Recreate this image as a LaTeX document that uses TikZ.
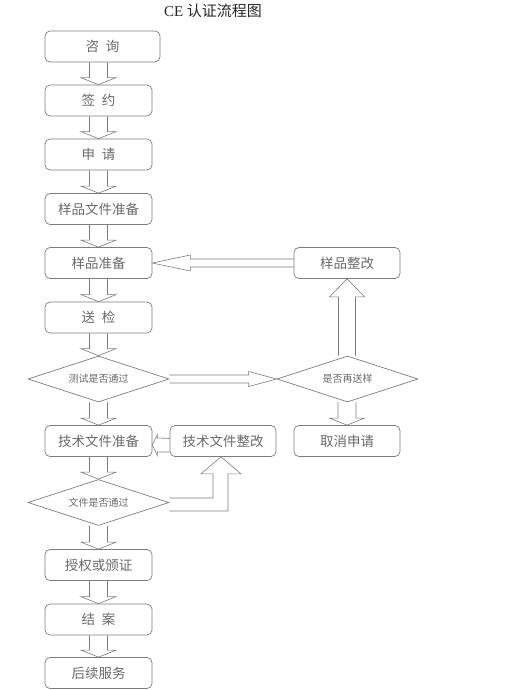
\documentclass[tikz,border=0pt]{standalone}
\usepackage{fontspec}
\setmainfont{Liberation Serif}
\newfontfamily\cjk{Noto Sans CJK SC}
\usetikzlibrary{shapes.geometric,calc}
\tikzset{>=latex}
\definecolor{linegray}{RGB}{125,125,125}
\definecolor{textgray}{RGB}{105,105,105}
\tikzset{
  box/.style={draw=linegray, line width=0.7pt, rounded corners=5pt, minimum width=107pt, minimum height=31pt, inner sep=0pt, text=textgray, font=\cjk\fontsize{13.5}{14}\selectfont},
  decision/.style={diamond, draw=linegray, line width=0.7pt, aspect=3.07, minimum width=141pt, minimum height=46pt, inner sep=0pt, text=textgray, font=\cjk\fontsize{10}{11}\selectfont},
  fatarrow/.style={draw=linegray, line width=0.6pt, line join=miter},
}
% wide arrow from the bottom of #1 down to the top of #2
\newcommand{\downblock}[2]{%
  \draw[fatarrow] ($(#2.north |- #1.south)+(-9,0)$) -- ($(#2.north)+(-9,-7)$) -- ($(#2.north)+(-17.5,-7)$) -- (#2.north)
    -- ($(#2.north)+(17.5,-7)$) -- ($(#2.north)+(9,-7)$) -- ($(#2.north |- #1.south)+(9,0)$);}

\begin{document}
\begin{tikzpicture}[x=1pt, y=-1pt]

% zone de dessin / drawing area (pixels of the reference)
\useasboundingbox (0,0) rectangle (508,690);

% Titre / title
\node[font=\fontsize{15}{16}\selectfont, text=black!85] (titre) at (213,11) {CE {\cjk 认证流程图}};

% Colonne principale / main column
\node[box, minimum width=115pt] (zixun) at (102.5,46.5) {咨\hspace{0.5em}询};
\node[box] (qianyue) at (98.5,100.5) {签\hspace{0.5em}约};
\node[box] (shenqing) at (98.5,154.5) {申\hspace{0.5em}请};
\node[box] (wenjian) at (98.5,209) {样品文件准备};
\node[box] (yangpin) at (98.5,263) {样品准备};
\node[box] (songjian) at (98.5,317.5) {送\hspace{0.5em}检};
\node[decision] (ceshi) at (98.5,379) {测试是否通过};
\node[box] (jishu) at (98.5,441) {技术文件准备};
\node[decision] (wjtg) at (98.5,502.5) {文件是否通过};
\node[box] (shouquan) at (98.5,565) {授权或颁证};
\node[box] (jiean) at (98.5,619.5) {结\hspace{0.5em}案};
\node[box] (houxu) at (98.5,673) {后续服务};

% Colonne de droite / right-hand side
\node[box, minimum width=106pt] (zhenggai) at (347,263) {样品整改};
\node[decision] (zaisong) at (347.5,379) {是否再送样};
\node[box, minimum width=106pt] (quxiao) at (347,441) {取消申请};
\node[box, minimum width=106pt] (jszg) at (223,441) {技术文件整改};

% Flèches verticales / downward arrows
\downblock{zixun}{qianyue}
\downblock{qianyue}{shenqing}
\downblock{shenqing}{wenjian}
\downblock{wenjian}{yangpin}
\downblock{yangpin}{songjian}
\downblock{songjian}{ceshi}
\downblock{ceshi}{jishu}
\downblock{jishu}{wjtg}
\downblock{wjtg}{shouquan}
\downblock{shouquan}{jiean}
\downblock{jiean}{houxu}
\downblock{zaisong}{quxiao}

% Boucle échantillon / sample loop
\draw[fatarrow] ($(ceshi.east)+(0,-4)$) -- ($(zaisong.west)+(-28,-4)$) -- ($(zaisong.west)+(-28,-7.5)$) -- (zaisong.west)
  -- ($(zaisong.west)+(-28,7.5)$) -- ($(zaisong.west)+(-28,4)$) -- ($(ceshi.east)+(0,4)$);
\draw[fatarrow] ($(zhenggai.south |- zaisong.north)+(-8.5,0)$) -- ($(zhenggai.south)+(-8.5,18)$) -- ($(zhenggai.south)+(-17.5,18)$) -- (zhenggai.south)
  -- ($(zhenggai.south)+(17.5,18)$) -- ($(zhenggai.south)+(8.5,18)$) -- ($(zhenggai.south |- zaisong.north)+(8.5,0)$);
\draw[fatarrow] ($(zhenggai.west)+(0,-4)$) -- ($(yangpin.east)+(38,-4)$) -- ($(yangpin.east)+(38,-8)$) -- (yangpin.east)
  -- ($(yangpin.east)+(38,8)$) -- ($(yangpin.east)+(38,4)$) -- ($(zhenggai.west)+(0,4)$);

% Boucle documents / documents loop
\coordinate (tipdoc) at ($(jishu.east)+(0,4)$);
\draw[fatarrow] ($(jszg.west)+(0,-2.5)$) -- ($(tipdoc)+(5,-7)$) -- ($(tipdoc)+(5,-10.5)$) -- (tipdoc)
  -- ($(tipdoc)+(5,10.5)$) -- ($(tipdoc)+(5,7)$) -- ($(jszg.west)+(0,11)$);
\coordinate (bend) at ($(jszg.south)+(-2,0)$);
\draw[fatarrow] ($(wjtg.east)+(0,-4.5)$) -- ($(bend |- wjtg.east)+(-8,-4.5)$) -- ($(bend)+(-8,17)$) -- ($(bend)+(-20,17)$) -- (bend)
  -- ($(bend)+(20,17)$) -- ($(bend)+(7,17)$) -- ($(bend |- wjtg.east)+(7,8.5)$) -- ($(wjtg.east)+(0,8.5)$);

\end{tikzpicture}
\end{document}
